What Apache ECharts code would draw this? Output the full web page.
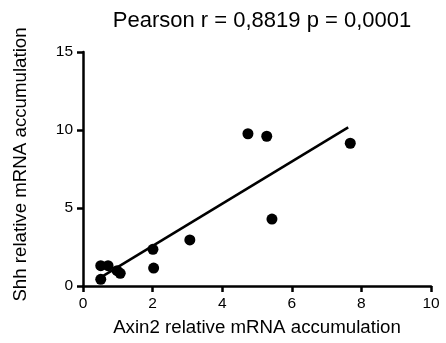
<!DOCTYPE html>
<html><head><meta charset="utf-8">
<script src="https://cdn.jsdelivr.net/npm/echarts@6/dist/echarts.min.js"></script>
<style>html,body{margin:0;padding:0;background:#fff}#c{width:446px;height:343px}</style>
</head><body><div id="c"></div>
<script>
var titleText = 'Pearson r = 0,8819 p = 0,0001';
var xName = 'Axin2 relative mRNA accumulation';
var yName = 'Shh relative mRNA accumulation';
var axin2 = [4.74, 5.28, 7.68, 5.43, 3.07, 2.01, 2.03, 0.51, 0.72, 0.98, 1.07, 0.51];
var shh   = [9.76, 9.60, 9.15, 4.29, 2.95, 2.35, 1.15, 1.30, 1.30, 0.98, 0.81, 0.43];
var fitX = [0.51, 7.62];
var fitY = [0.55, 10.17];
var xTicks = [0, 2, 4, 6, 8, 10];
var yTicks = [0, 5, 10, 15];

var pts = axin2.map(function (x, i) { return [x, shh[i]]; });
var line = fitX.map(function (x, i) { return [x, fitY[i]]; });
var font = 'Arial, "Liberation Sans", sans-serif';
var chart = echarts.init(document.getElementById('c'));
chart.setOption({
  animation: false,
  title: { text: titleText, left: 257, textAlign: 'center', top: 5,
    textStyle: { fontFamily: font, fontSize: 22, fontWeight: 'normal', color: '#000' } },
  grid: { left: 83, right: 15, top: 52, bottom: 57 },
  graphic: [{
    type: 'text', x: 21, y: 164.5, rotation: Math.PI / 2,
    style: { text: yName, fontFamily: font, fontSize: 18.7, fill: '#000',
      textAlign: 'center', textVerticalAlign: 'middle' }
  }],
  xAxis: { type: 'value', min: xTicks[0], max: xTicks[xTicks.length - 1], interval: 2,
    name: xName, nameLocation: 'middle', nameGap: 32,
    nameTextStyle: { fontFamily: font, fontSize: 18.7, color: '#000' },
    axisLine: { lineStyle: { color: '#000', width: 2.5 } },
    axisTick: { show: true, inside: false, length: 6, lineStyle: { color: '#000', width: 2.5 } },
    axisLabel: { fontFamily: font, fontSize: 15.5, color: '#000', margin: 10 },
    splitLine: { show: false } },
  yAxis: { type: 'value', min: yTicks[0], max: yTicks[yTicks.length - 1], interval: 5,
    axisLine: { show: true, lineStyle: { color: '#000', width: 2.5 } },
    axisTick: { show: true, inside: false, length: 6, lineStyle: { color: '#000', width: 2.5 } },
    axisLabel: { fontFamily: font, fontSize: 15.5, color: '#000', margin: 10 },
    splitLine: { show: false } },
  series: [
    { type: 'line', data: line, symbol: 'none', lineStyle: { color: '#000', width: 2.5 }, z: 2 },
    { type: 'scatter', data: pts, symbol: 'circle', symbolSize: 11, itemStyle: { color: '#000', opacity: 1 }, z: 3 }
  ]
});
</script></body></html>
